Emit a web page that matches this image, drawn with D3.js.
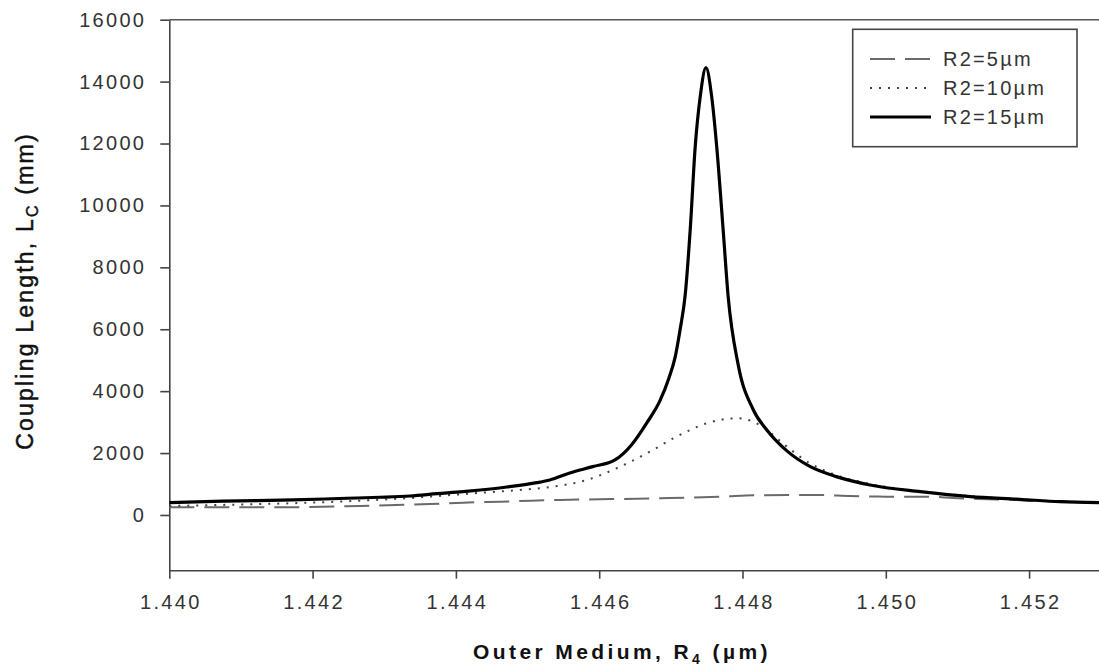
<!DOCTYPE html>
<html>
<head>
<meta charset="utf-8">
<script src="https://cdn.jsdelivr.net/npm/d3@7"></script>
<style>
  html, body { margin: 0; padding: 0; background: #fff; }
  svg { display: block; font-family: "Liberation Sans", Arial, sans-serif; }
</style>
</head>
<body>
<svg id="chart" width="1099" height="667"></svg>
<script>
// Coupling length Lc (mm) versus outer-medium index R4, for three R2 radii.
const r4_R2_5  = [1.44000, 1.44165, 1.44266, 1.44364, 1.44410, 1.44462, 1.44505, 1.44545, 1.44685, 1.44768, 1.44824, 1.44908, 1.44950, 1.45000, 1.45066, 1.45094, 1.45128, 1.45200, 1.45300];
const lc_R2_5  = [250, 250, 290, 355, 397, 430, 462, 485, 540, 591, 640, 646, 610, 592, 585, 545, 520, 470, 395];

const r4_R2_10 = [1.44000, 1.44089, 1.44196, 1.44266, 1.44331, 1.44394, 1.44438, 1.44489, 1.44536, 1.44583, 1.44629, 1.44675, 1.44699, 1.44722, 1.44750, 1.44792, 1.44815, 1.44834, 1.44862, 1.44894, 1.44931, 1.44978, 1.45048, 1.45118, 1.45187, 1.45243, 1.45300];
const lc_R2_10 = [290, 333, 397, 462, 540, 646, 721, 808, 915, 1131, 1561, 2100, 2423, 2692, 2962, 3124, 3015, 2746, 2207, 1670, 1290, 1000, 770, 610, 510, 435, 400];

const r4_R2_15 = [1.44000, 1.44075, 1.44173, 1.44248, 1.44294, 1.44336, 1.44374, 1.44410, 1.44434, 1.44471, 1.44513, 1.44531, 1.44559, 1.44591, 1.44622, 1.44645, 1.44666, 1.44685, 1.44697, 1.44706, 1.44713, 1.44720, 1.44727, 1.44734, 1.44741, 1.44749, 1.44757, 1.44764, 1.44773, 1.44780, 1.44794, 1.44815, 1.44834, 1.44862, 1.44894, 1.44931, 1.44978, 1.45048, 1.45118, 1.45187, 1.45243, 1.45300];
const lc_R2_15 = [400, 450, 485, 540, 572, 614, 688, 753, 808, 905, 1044, 1131, 1357, 1561, 1777, 2262, 2960, 3700, 4400, 5100, 6000, 7100, 9208, 11900, 13515, 14450, 13515, 11900, 9208, 7053, 4850, 3400, 2746, 2070, 1568, 1239, 969, 753, 591, 507, 430, 397];

const seriesNames = ["R2=5\u00b5m", "R2=10\u00b5m", "R2=15\u00b5m"];
const xTicks = [1.440, 1.442, 1.444, 1.446, 1.448, 1.450, 1.452];
const yTicks = [0, 2000, 4000, 6000, 8000, 10000, 12000, 14000, 16000];

const series = [
  { name: seriesNames[0], x: r4_R2_5,  y: lc_R2_5,  stroke: "#6a6a6a", width: 2,   dash: "25,10" },
  { name: seriesNames[1], x: r4_R2_10, y: lc_R2_10, stroke: "#444",    width: 2,   dash: "2,7" },
  { name: seriesNames[2], x: r4_R2_15, y: lc_R2_15, stroke: "#000",    width: 3.2, dash: null }
];

const svg = d3.select("#chart");
const plotLeft = 169.3, plotTop = 19.7, plotBottom = 570.7, plotRight = 1099;

const x = d3.scaleLinear().domain([1.440, 1.453]).range([plotLeft, 1100.75]);
const y = d3.scaleLinear().domain([-1800, 16000]).range([plotBottom, plotTop]);

svg.append("defs").append("clipPath").attr("id", "plotClip")
  .append("rect").attr("x", plotLeft).attr("y", plotTop)
  .attr("width", plotRight - plotLeft).attr("height", plotBottom - plotTop);

// top frame line
svg.append("line")
  .attr("x1", plotLeft).attr("x2", plotRight).attr("y1", plotTop).attr("y2", plotTop)
  .attr("stroke", "#555").attr("stroke-width", 1.6);

// axes
const xAxis = svg.append("g").attr("transform", `translate(0,${plotBottom})`)
  .call(d3.axisBottom(x).tickValues(xTicks).tickFormat(d3.format(".3f")).tickSizeInner(8).tickSizeOuter(0));
const yAxis = svg.append("g").attr("transform", `translate(${plotLeft},0)`)
  .call(d3.axisLeft(y).tickValues(yTicks).tickFormat(d3.format("d")).tickSizeInner(9).tickSizeOuter(0));

[xAxis, yAxis].forEach(g => {
  g.select(".domain").attr("stroke", "#444").attr("stroke-width", 1.6);
  g.selectAll(".tick line").attr("stroke", "#444").attr("stroke-width", 1.6);
  g.selectAll(".tick text")
    .attr("fill", "#333")
    .style("font-size", "20px")
    .style("letter-spacing", "2.3px")
    .style("font-family", "'Liberation Sans', Arial, sans-serif");
});
xAxis.select(".domain").attr("d", `M${plotLeft},0H${plotRight}`);
xAxis.selectAll(".tick text").attr("y", 24).attr("dy", "0.71em").attr("dx", "1px");
yAxis.selectAll(".tick text").attr("x", -23).attr("dx", "0");

// curves
const line = d3.line().x(d => x(d[0])).y(d => y(d[1])).curve(d3.curveMonotoneX);
const plot = svg.append("g").attr("clip-path", "url(#plotClip)");
series.forEach(s => {
  plot.append("path")
    .datum(s.x.map((v, i) => [v, s.y[i]]))
    .attr("d", line)
    .attr("fill", "none")
    .attr("stroke", s.stroke)
    .attr("stroke-width", s.width)
    .attr("stroke-dasharray", s.dash)
    .attr("stroke-linejoin", "round");
});

// legend
const legend = svg.append("g");
legend.append("rect")
  .attr("x", 852.7).attr("y", 29.3).attr("width", 224.3).attr("height", 117.4)
  .attr("fill", "#fff").attr("stroke", "#444").attr("stroke-width", 1.6);
series.forEach((s, i) => {
  const ly = 59 + i * 29;
  legend.append("line")
    .attr("x1", 870).attr("x2", 931).attr("y1", ly).attr("y2", ly)
    .attr("stroke", s.stroke).attr("stroke-width", s.width)
    .attr("stroke-dasharray", s.dash);
  legend.append("text")
    .attr("x", 943).attr("y", ly + 7)
    .attr("fill", "#333")
    .style("font-size", "20px")
    .style("letter-spacing", "2.2px")
    .text(s.name);
});

// axis titles
const xt = svg.append("text")
  .attr("x", 622).attr("y", 659)
  .attr("text-anchor", "middle")
  .attr("fill", "#111")
  .style("font-size", "21px").style("font-weight", "bold").style("letter-spacing", "3.4px");
xt.append("tspan").text("Outer Medium, R");
xt.append("tspan").attr("dy", 5).style("font-size", "14px").text("4");
xt.append("tspan").attr("dy", -5).text(" (\u00b5m)");

const yt = svg.append("text")
  .attr("transform", "translate(33,291) rotate(-90)")
  .attr("text-anchor", "middle")
  .attr("fill", "#111")
  .attr("stroke", "#111").attr("stroke-width", 0.5)
  .style("font-size", "23px").style("letter-spacing", "2.2px");
yt.append("tspan").text("Coupling Length, L");
yt.append("tspan").attr("dy", 5).style("font-size", "16px").text("C");
yt.append("tspan").attr("dy", -5).text(" (mm)");
</script>
</body>
</html>
